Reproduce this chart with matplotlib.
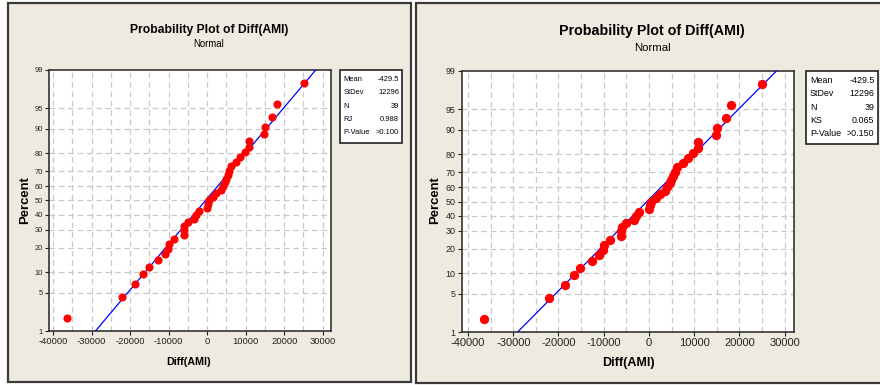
import numpy as np
import matplotlib
matplotlib.use('Agg')
import matplotlib.pyplot as plt
from matplotlib.patches import Rectangle
from statistics import NormalDist

# Diff(AMI) sample, sorted
diff_ami = [-36550, -22150, -18650, -16650, -15150, -12700, -11050, -10100,
            -9950, -8550, -6150, -6080, -5950, -5000, -3400, -2800, -2100,
            0, 150, 520, 1620, 2360, 3460, 4050, 4570, 4940, 5300, 5670,
            6190, 7520, 8620, 9730, 10800, 10800, 14800, 14950, 16950,
            18050, 25050]
fit_mean = -429.5
fit_stdev = 12296

pct_ticks = [1, 5, 10, 20, 30, 40, 50, 60, 70, 80, 90, 95, 99]
pct_grid = [5, 10, 20, 30, 40, 50, 60, 70, 80, 90, 95]
x_ticks = [-40000, -30000, -20000, -10000, 0, 10000, 20000, 30000]
x_grid = [-40000, -35000, -30000, -25000, -20000, -15000, -10000, -5000,
          0, 5000, 10000, 15000, 20000, 25000, 30000]

names_rj = ['Mean', 'StDev', 'N', 'RJ', 'P-Value']
vals_rj = ['-429.5', '12296', '39', '0.988', '>0.100']
names_ks = ['Mean', 'StDev', 'N', 'KS', 'P-Value']
vals_ks = ['-429.5', '12296', '39', '0.065', '>0.150']

title = 'Probability Plot of Diff(AMI)'
subtitle = 'Normal'
xlabel = 'Diff(AMI)'
ylabel = 'Percent'

W, H = 880, 385
FONT = ['Liberation Sans', 'DejaVu Sans']
BG = '#EEEAE0'
nd = NormalDist()
plt.rcParams['font.family'] = FONT


def fx(x):
   return x / W


def fy(y):
   return 1 - y / H


def box(x0, y0, x1, y1):
   return [fx(x0), fy(y1), (x1 - x0) / W, (y1 - y0) / H]


def prob_plot(fig, panel, axbox, xlim, statbox, names, vals, s, pos):
   # Minitab style graph window
   x0, y0, x1, y1 = panel
   fig.patches.append(Rectangle((fx(x0), fy(y1)), (x1 - x0) / W, (y1 - y0) / H,
                                transform=fig.transFigure, facecolor=BG,
                                edgecolor='#3a3a3a', lw=1.6, zorder=-5))
   ax = fig.add_axes(box(*axbox))
   ax.set_zorder(2)
   ax.set_facecolor('white')

   # median ranks, as Minitab does
   n = len(diff_ami)
   p = [(i + 1 - 0.3) / (n + 0.4) for i in range(n)]
   z = [nd.inv_cdf(q) for q in p]
   zl = np.array([nd.inv_cdf(q) for q in (0.001, 0.999)])
   ax.plot(fit_mean + zl * fit_stdev, zl, color='#0000FF', lw=0.9, zorder=3)
   ax.plot(diff_ami, z, 'o', color='#FF0000', ms=5.7 * s, mec='#FF0000',
           zorder=4)

   for g in x_grid:
      ax.axvline(g, color='#C8C8C8', lw=0.9, ls=(0, (4.5, 3)), zorder=1)
   for g in pct_grid:
      ax.axhline(nd.inv_cdf(g / 100), color='#C8C8C8', lw=0.9,
                 ls=(0, (4.5, 3)), zorder=1)

   ax.set_xlim(xlim)
   ax.set_ylim(nd.inv_cdf(0.01), nd.inv_cdf(0.99))
   ax.set_xticks(x_ticks)
   ax.set_xticklabels([str(t) for t in x_ticks], fontsize=8.0 * s)
   ax.set_yticks([nd.inv_cdf(t / 100) for t in pct_ticks])
   ax.set_yticklabels([str(t) for t in pct_ticks], fontsize=6.4 * s)
   ax.tick_params(length=3, width=0.8, pad=1.5, colors='#222222')
   for sp in ax.spines.values():
      sp.set_color('#333333')
      sp.set_linewidth(1.2)

   # titles and axis labels
   fig.text(fx(pos['tx']), fy(pos['ty']), title, ha='center', va='center',
            fontweight='bold', fontsize=10.3 * s)
   fig.text(fx(pos['tx']), fy(pos['ty'] + 17 * s), subtitle, ha='center',
            va='center', fontsize=8.2 * s)
   fig.text(fx(pos['lx']), fy(pos['ly']), xlabel, ha='center', va='center',
            fontweight='bold', fontsize=9.0 * s)
   fig.text(fx(pos['px']), fy(pos['py']), ylabel, ha='center', va='center',
            rotation=90, fontweight='bold', fontsize=9.4)

   # statistics box
   bx0, by0, bx1, by1 = statbox
   fig.patches.append(Rectangle((fx(bx0), fy(by1)), (bx1 - bx0) / W,
                                (by1 - by0) / H, transform=fig.transFigure,
                                facecolor='white', edgecolor='#222222',
                                lw=1.2, zorder=3))
   step = (by1 - by0) / 5.45
   for k, (nm, v) in enumerate(zip(names, vals)):
      yy = by0 + step * (k + 0.7)
      fig.text(fx(bx0 + 4 * s), fy(yy), nm, ha='left', va='center',
               fontsize=6.4 * s, zorder=4)
      fig.text(fx(bx1 - 3.5 * s), fy(yy), v, ha='right', va='center',
               fontsize=6.4 * s, zorder=4)
   return ax


fig = plt.figure(figsize=(W / 100, H / 100), dpi=100)
fig.patch.set_facecolor('white')

prob_plot(fig, (8, 3, 411, 382), (49, 70, 331, 331), (-41100, 32150),
          (340, 70, 402, 143), names_rj, vals_rj, 0.85,
          dict(tx=209, ty=30, lx=189, ly=362, px=25, py=200))
prob_plot(fig, (416, 3, 895, 383), (462, 71, 794, 332), (-41330, 32060),
          (806, 71, 878, 144), names_ks, vals_ks, 1.0,
          dict(tx=652, ty=31, lx=628, ly=363, px=435, py=200))

fig.savefig('out.png', dpi=100, facecolor='white')
